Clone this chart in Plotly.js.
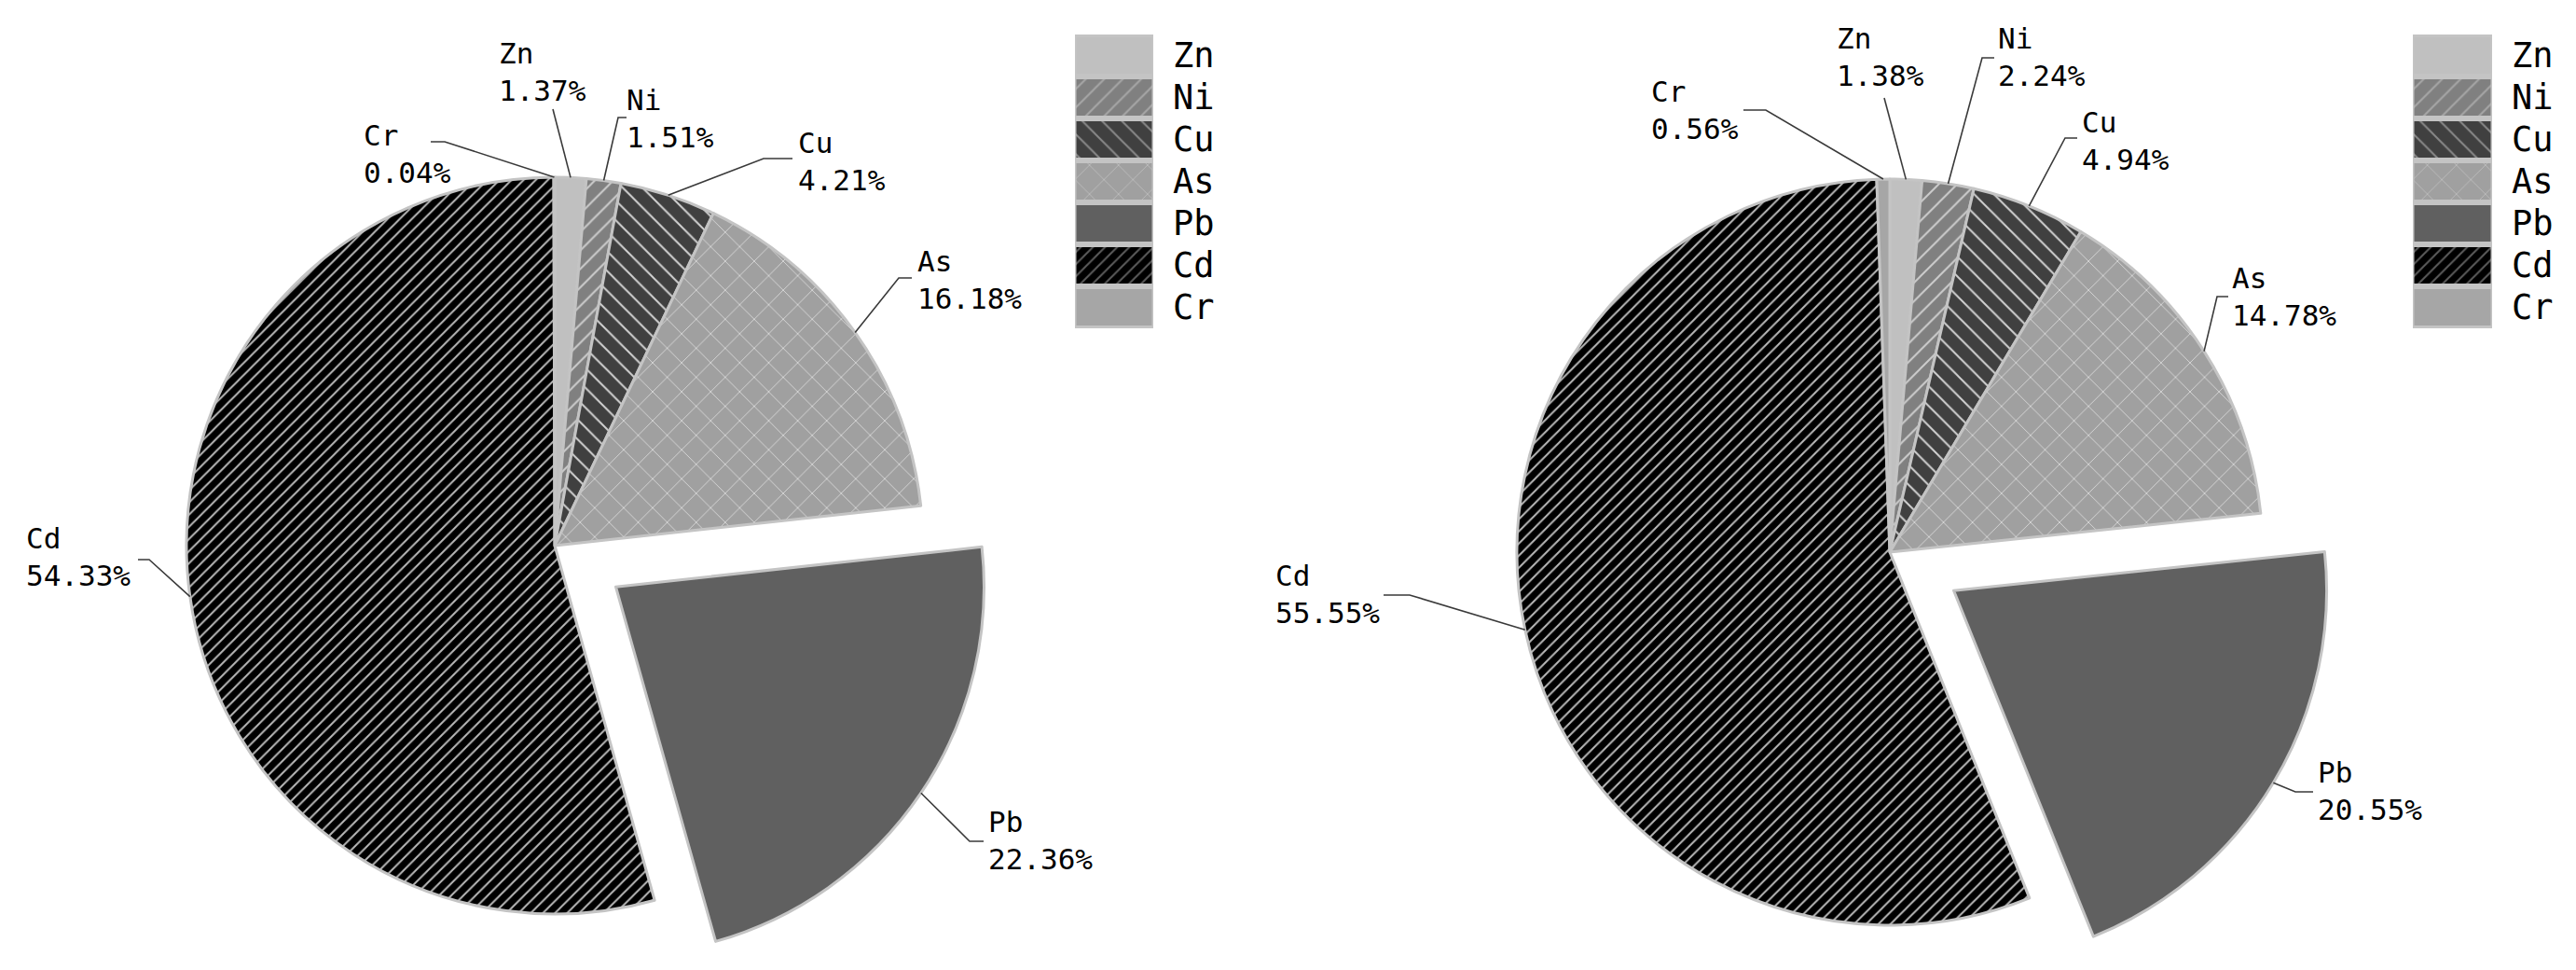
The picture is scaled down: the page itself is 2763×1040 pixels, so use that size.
<!DOCTYPE html>
<html><head><meta charset="utf-8">
<script src="https://cdn.plot.ly/plotly-3.0.1.min.js"></script>
<style>html,body{margin:0;padding:0;overflow:hidden;background:#fff}#chart{width:2763px;height:1200px}</style>
</head><body><div id="chart"></div>
<script>
// ---- data ----
const elements = ['Zn','Ni','Cu','As','Pb','Cd','Cr'];
const valuesLeft  = [1.37, 1.51, 4.21, 16.18, 22.36, 54.33, 0.04];
const valuesRight = [1.38, 2.24, 4.94, 14.78, 20.55, 55.55, 0.56];

// ---- styles ----
const sliceColors = ['#c0c0c0','#808080','#404040','#a0a0a0','#606060','#000000','#a6a6a6'];
const patShapes   = ['','/','\\','x','','/',''];
const patFg       = ['#c0c0c0','#cdcdcd','#d2d2d2','#d8d8d8','#606060','#b8b8b8','#a6a6a6'];
const patSize     = [10, 14, 15, 22, 10, 9.2, 10];
const patSolid    = [0.2, 0.14, 0.13, 0.08, 0.2, 0.22, 0.2];
const borderColor = '#c4c4c4';
const pulls       = [0, 0, 0, 0, 0.2, 0, 0];
const FONT = '"DejaVu Sans Mono", "Liberation Mono", monospace';
const labelFontSize = 31, legendFontSize = 37;

const W = 2763, H = 1200;

// ---- layout geometry (pixels) ----
const pieGeom = [
  {values: valuesLeft,  cx: 595,  cy: 585, r: 395, legendX0: 1153, legendX1: 1237, legendTextX: 1256},
  {values: valuesRight, cx: 2027, cy: 592, r: 400, legendX0: 2588, legendX1: 2673, legendTextX: 2692}
];
const legendTop = 37, legendPitch = 45;

// label placement: text left x, name-line centre y, leader elbow points
const labelPosLeft = [
  {x: 533,  y: 57,  pts: [[593,117]]},
  {x: 670,  y: 107, pts: [[663,126],[672,126]]},
  {x: 854,  y: 153, pts: [[819,170],[850,170]]},
  {x: 982,  y: 280, pts: [[964,298],[978,298]]},
  {x: 1058, y: 881, pts: [[1040,902],[1055,902]]},
  {x: 26,   y: 577, pts: [[160,600],[148,600]]},
  {x: 388,  y: 145, pts: [[477,152],[462,152]]}
];
const labelPosRight = [
  {x: 1968, y: 41,  pts: [[2021,105]]},
  {x: 2141, y: 41,  pts: [[2126,62],[2139,62]]},
  {x: 2231, y: 131, pts: [[2215,148],[2228,148]]},
  {x: 2392, y: 298, pts: [[2378,318],[2390,318]]},
  {x: 2484, y: 828, pts: [[2462,849],[2481,849]]},
  {x: 1366, y: 617, pts: [[1512,638],[1484,638]]},
  {x: 1769, y: 98,  pts: [[1894,118],[1870,118]]}
];
const labelPos = [labelPosLeft, labelPosRight];
const pctGap = 40;

const px = x => x / W;
const py = y => 1 - y / H;

const traces = [];
const annotations = [];
const shapes = [];
const layout = {
  width: W, height: H,
  margin: {l: 0, r: 0, t: 0, b: 0},
  paper_bgcolor: '#ffffff', plot_bgcolor: '#ffffff',
  showlegend: false,
  bargap: 0.07,
  barmode: 'overlay',
  font: {family: FONT, color: '#000'}
};

pieGeom.forEach((g, k) => {
  const maxPull = Math.max(...pulls);
  const rx = g.r * (1 + maxPull);
  const half = 490;
  traces.push({
    type: 'pie',
    labels: elements,
    values: g.values,
    sort: false,
    direction: 'clockwise',
    rotation: 0,
    pull: pulls,
    textinfo: 'none',
    hoverinfo: 'skip',
    showlegend: false,
    domain: {x: [px(g.cx - rx), px(g.cx + rx)], y: [py(g.cy + half), py(g.cy - half)]},
    marker: {
      colors: sliceColors,
      line: {color: borderColor, width: 3},
      pattern: {shape: patShapes, fgcolor: patFg, bgcolor: sliceColors, size: patSize, solidity: patSolid, fillmode: 'replace'}
    }
  });

  // labels + leader lines
  const total = g.values.reduce((a, b) => a + b, 0);
  let cum = 0;
  g.values.forEach((v, i) => {
    const mid = (cum + v / 2) / total;
    cum += v;
    const th = 2 * Math.PI * mid;
    const rr = g.r * (1 + pulls[i]);
    const ex = g.cx + rr * Math.sin(th);
    const ey = g.cy - rr * Math.cos(th);
    const L = labelPos[k][i];
    let d = 'M' + px(ex) + ',' + py(ey);
    L.pts.forEach(p => { d += ' L' + px(p[0]) + ',' + py(p[1]); });
    shapes.push({type: 'path', xref: 'paper', yref: 'paper', path: d, line: {color: '#3a3a3a', width: 1.6}});
    annotations.push({xref: 'paper', yref: 'paper', x: px(L.x), y: py(L.y), xanchor: 'left', yanchor: 'middle',
      text: elements[i], showarrow: false, font: {size: labelFontSize, family: FONT, color: '#000'}});
    annotations.push({xref: 'paper', yref: 'paper', x: px(L.x), y: py(L.y + pctGap), xanchor: 'left', yanchor: 'middle',
      text: v.toFixed(2) + '%', showarrow: false, font: {size: labelFontSize, family: FONT, color: '#000'}});
  });

  // custom legend: one bar swatch per element
  const xa = k === 0 ? 'x' : 'x2';
  const ya = k === 0 ? 'y' : 'y2';
  elements.forEach((e, i) => {
    const pat = patShapes[i] ? {shape: patShapes[i], fgcolor: patFg[i], size: patSize[i], solidity: patSolid[i], fillmode: 'overlay'} : {shape: ''};
    traces.push({
      type: 'bar', orientation: 'h',
      y: [e], x: [1],
      xaxis: xa, yaxis: ya, hoverinfo: 'skip', showlegend: false,
      marker: {color: sliceColors[i], line: {color: borderColor, width: 3}, pattern: pat}
    });
  });
  const yTop = legendTop, yBot = legendTop + legendPitch * elements.length;
  const axX = {domain: [px(g.legendX0), px(g.legendX1)], range: [0, 1], visible: false, fixedrange: true};
  const axY = {domain: [py(yBot), py(yTop)], type: 'category', categoryorder: 'array', categoryarray: elements,
    range: [elements.length - 0.5, -0.5], visible: false, fixedrange: true};
  if (k === 0) { axX.anchor = 'y'; axY.anchor = 'x'; layout.xaxis = axX; layout.yaxis = axY; }
  else { axX.anchor = 'y2'; axY.anchor = 'x2'; layout.xaxis2 = axX; layout.yaxis2 = axY; }
  elements.forEach((e, i) => {
    annotations.push({xref: 'paper', yref: 'paper', x: px(g.legendTextX), y: py(yTop + legendPitch * (i + 0.5)),
      xanchor: 'left', yanchor: 'middle', text: e, showarrow: false, font: {size: legendFontSize, family: FONT, color: '#000'}});
  });
});

layout.annotations = annotations;
layout.shapes = shapes;

Plotly.newPlot('chart', traces, layout, {staticPlot: true, displayModeBar: false});
</script></body></html>
